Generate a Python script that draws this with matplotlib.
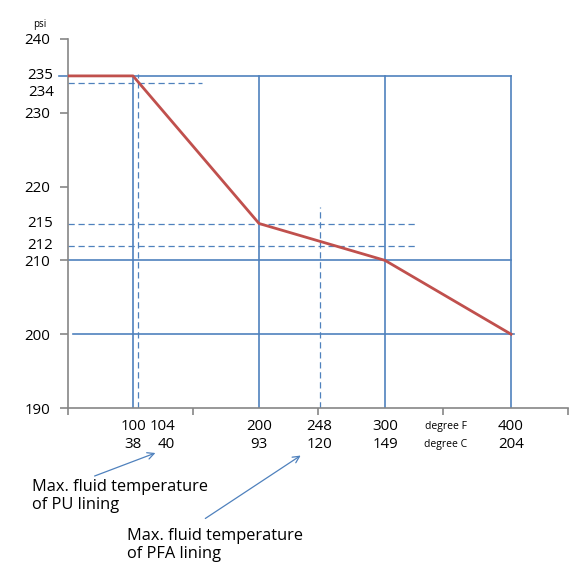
import numpy as np
import matplotlib.pyplot as plt
from matplotlib.patches import FancyArrowPatch

# pressure rating vs. temperature
temps_f = [48, 100, 200, 300, 400]
psi = [235, 235, 215, 210, 200]

# labelled temperatures (F / C)
label_f = [100, 104, 200, 248, 300, 400]
label_c = [38, 40, 93, 120, 149, 204]

y_ticks = [240, 230, 220, 210, 200, 190]
extra_y = [235, 215, 212]
pu_temp, pu_psi = 104, 234
pfa_temp, pfa_psi = 248, 212

blue = '#4F81BD'
red = '#C0504D'
gray = '#868686'
plt.rcParams['font.family'] = ['Open Sans', 'DejaVu Sans']
fs = 10.8

fig = plt.figure(figsize=(5.79, 5.69), dpi=100)
ax = fig.add_axes([68 / 579, 1 - 408 / 569, 500 / 579, 369 / 569])
xlo, xhi = 48.4, 445.2
ax.set_xlim(xlo, xhi)
ax.set_ylim(190, 240)

# solid guides
for t in [100, 200, 300, 400]:
    ax.plot([t, t], [190, 235], color=blue, lw=1.2, zorder=2)
ax.plot([41, 400], [235, 235], color=blue, lw=1.2, clip_on=False, zorder=2)
ax.plot([xlo, 400], [210, 210], color=blue, lw=1.2, zorder=2)
ax.plot([52, 402], [200, 200], color=blue, lw=1.2, zorder=2)

# dashed guides
dash = dict(color=blue, lw=0.9, ls=(0, (5, 3)), zorder=2)
ax.plot([xlo, 155], [pu_psi, pu_psi], **dash)
ax.plot([pu_temp, pu_temp], [190, 235.3], **dash)
ax.plot([xlo, 326], [215, 215], **dash)
ax.plot([xlo, 326], [pfa_psi, pfa_psi], **dash)
ax.plot([pfa_temp, pfa_temp], [190, 217.3], **dash)

# rating curve
ax.plot(temps_f, psi, color=red, lw=2, zorder=3)

# axes styling
for s in ['top', 'right']:
    ax.spines[s].set_visible(False)
for s in ['left', 'bottom']:
    ax.spines[s].set_color(gray)
    ax.spines[s].set_linewidth(1.2)
ax.set_yticks(y_ticks)
ax.set_yticklabels([str(v) for v in y_ticks], fontsize=fs)
ax.tick_params(axis='y', length=6, color=gray, width=1.2, pad=7)
ax.set_xticks(np.linspace(xlo, xhi, 5))
ax.set_xticklabels([])
ax.tick_params(axis='x', length=5, color=gray, width=1.2)

# extra y labels
for v in extra_y:
    ax.annotate(str(v), xy=(0, v), xycoords=('axes fraction', 'data'),
                xytext=(-15, 0), textcoords='offset pixels',
                ha='right', va='center', fontsize=fs)
ax.annotate(str(pu_psi), xy=(0, pu_psi), xycoords=('axes fraction', 'data'),
            xytext=(-14, -2), textcoords='offset pixels',
            ha='right', va='top', fontsize=fs)

# temperature labels
for f, c in zip(label_f, label_c):
    if f == 104:
        off_f, off_c, ha = 12, 20, 'left'
    else:
        off_f, off_c, ha = 0, 0, 'center'
    ax.annotate(str(f), xy=(f, 0), xycoords=('data', 'axes fraction'),
                xytext=(off_f, -18), textcoords='offset pixels',
                ha=ha, va='center', fontsize=fs)
    ax.annotate(str(c), xy=(f, 0), xycoords=('data', 'axes fraction'),
                xytext=(off_c, -37), textcoords='offset pixels',
                ha=ha, va='center', fontsize=fs)
ax.annotate('degree F', xy=(348, 0), xycoords=('data', 'axes fraction'),
            xytext=(0, -18), textcoords='offset pixels',
            ha='center', va='center', fontsize=7.5)
ax.annotate('degree C', xy=(348, 0), xycoords=('data', 'axes fraction'),
            xytext=(0, -37), textcoords='offset pixels',
            ha='center', va='center', fontsize=7.5)

fig.text(40 / 579, 1 - 24 / 569, 'psi', fontsize=7, ha='center', va='center')

# notes with arrows
fig.text(32 / 579, 1 - 479 / 569, 'Max. fluid temperature\nof PU lining',
         fontsize=11.8, ha='left', va='top', linespacing=1.15)
fig.text(127 / 579, 1 - 528 / 569, 'Max. fluid temperature\nof PFA lining',
         fontsize=11.8, ha='left', va='top', linespacing=1.15)
arrow = dict(arrowstyle='->', color=blue, lw=0.9, mutation_scale=12,
             transform=fig.transFigure)
fig.add_artist(FancyArrowPatch((92 / 579, 1 - 477 / 569),
                               (158 / 579, 1 - 452 / 569), **arrow))
fig.add_artist(FancyArrowPatch((203 / 579, 1 - 520 / 569),
                               (303 / 579, 1 - 454 / 569), **arrow))

fig.savefig('out.png', dpi=100)
